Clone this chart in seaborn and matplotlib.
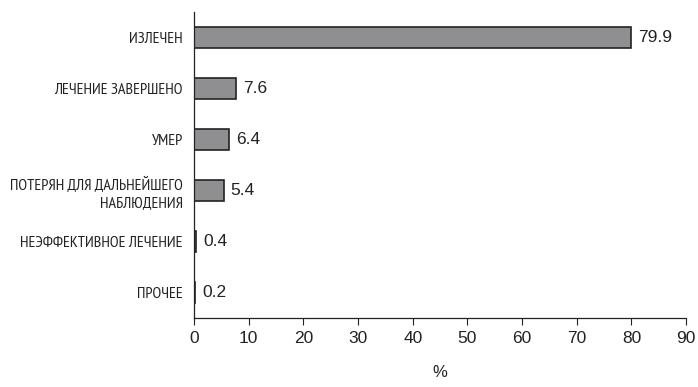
import numpy as np
import pandas as pd
import matplotlib.pyplot as plt
import seaborn as sns
from matplotlib.ticker import FixedLocator

# === Données ===
categories = ["ИЗЛЕЧЕН", "ЛЕЧЕНИЕ ЗАВЕРШЕНО", "УМЕР",
              "ПОТЕРЯН ДЛЯ ДАЛЬНЕЙШЕГО\nНАБЛЮДЕНИЯ",
              "НЕЭФФЕКТИВНОЕ ЛЕЧЕНИЕ", "ПРОЧЕЕ"]
values = [79.9, 7.6, 6.4, 5.4, 0.4, 0.2]
x_ticks = [0, 10, 20, 30, 40, 50, 60, 70, 80, 90]

df = pd.DataFrame({"cat": categories, "val": values})

sns.set_style("white")
plt.rcParams['font.family'] = ['Liberation Sans', 'DejaVu Sans']

fig = plt.figure(figsize=(6.98, 3.87), dpi=100)
ax = fig.add_axes([0.278, 0.178, 0.705, 0.791])

sns.barplot(data=df, x="val", y="cat", orient="h", ax=ax, width=0.42,
            color="#8f8f91", edgecolor="#222222", linewidth=1.2, saturation=1)

for i, v in enumerate(values):
    ax.text(v + 1.3, i, f"{v:.1f}", va="center", ha="left", fontsize=12.5, color="#222222")

ax.set_xlim(0, 90)
ax.set_ylim(5.5, -0.5)
ax.set_xticks(x_ticks)
ax.set_xticklabels([str(t) for t in x_ticks], fontsize=12.5, color="#222222")
ax.set_yticks(range(len(categories)))
ax.set_yticklabels(categories, fontsize=11.5, color="#222222",
                   family=['PT Sans Narrow', 'DejaVu Sans'], linespacing=1.25)
ax.yaxis.set_minor_locator(FixedLocator(np.arange(-0.5, len(categories), 1)))
ax.tick_params(axis="y", which="major", length=0, pad=8)
ax.tick_params(axis="y", which="minor", length=5, width=0.8, color="#222222", direction="out")
ax.tick_params(axis="x", length=5, width=0.8, color="#222222", direction="out", pad=4, bottom=True)

ax.set_xlabel("%", fontsize=12, color="#222222", labelpad=14)
ax.set_ylabel("")
sns.despine(ax=ax)
for s in ["left", "bottom"]:
    ax.spines[s].set_color("#222222")
    ax.spines[s].set_linewidth(0.9)

plt.savefig("out.png", dpi=100)
plt.close()
